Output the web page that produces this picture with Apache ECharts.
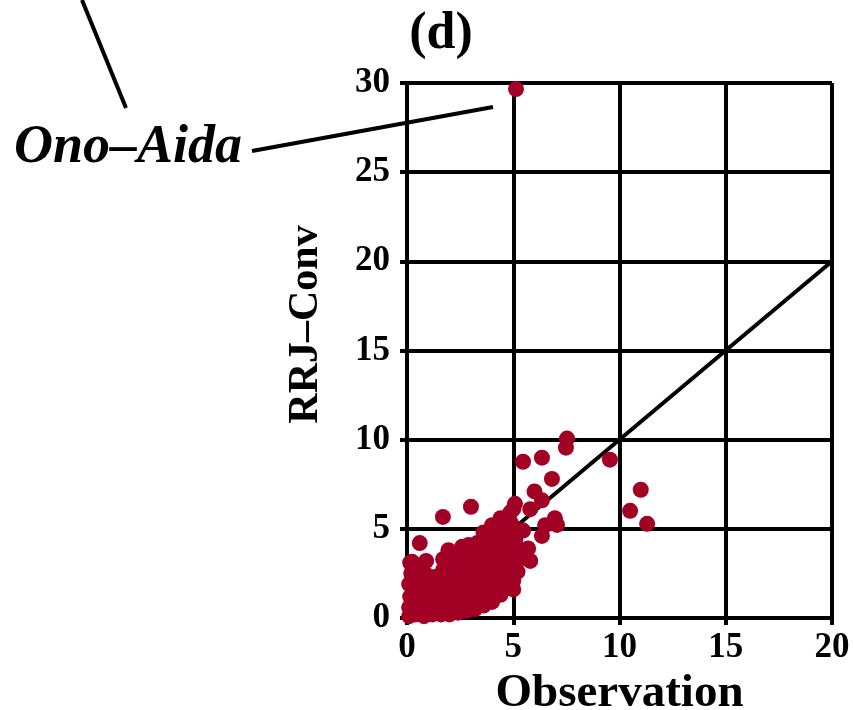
<!DOCTYPE html>
<html>
<head>
<meta charset="utf-8">
<script src="https://cdn.jsdelivr.net/npm/echarts@6/dist/echarts.min.js"></script>
<style>
  html, body { margin: 0; padding: 0; background: #fff; }
  #chart { width: 853px; height: 710px; }
</style>
</head>
<body>
<div id="chart"></div>
<script>
// observation vs RRJ-Conv
var cluster = [
  [0.1, 0.1], [0.1, 0.6], [0.15, 1.2], [0.1, 1.9], [0.2, 2.5], [0.15, 3.1],
  [0.4, 0.2], [0.4, 0.8], [0.45, 1.4], [0.4, 2.0], [0.5, 2.6],
  [0.8, 0.1], [0.8, 0.7], [0.75, 1.3], [0.8, 1.9], [0.85, 2.5], [0.9, 3.2],
  [1.2, 0.2], [1.2, 0.8], [1.25, 1.4], [1.2, 2.0], [1.3, 2.3],
  [1.6, 0.2], [1.6, 0.9], [1.65, 1.5], [1.6, 2.1], [1.7, 2.7], [1.7, 3.3],
  [2.0, 0.2], [2.0, 0.8], [2.05, 1.4], [2.0, 2.0], [2.1, 2.6], [2.0, 3.2], [1.95, 3.8],
  [2.4, 0.3], [2.4, 0.9], [2.45, 1.5], [2.4, 2.1], [2.5, 2.7], [2.4, 3.3], [2.6, 4.0],
  [2.8, 0.4], [2.8, 1.0], [2.85, 1.6], [2.8, 2.2], [2.9, 2.8], [2.8, 3.4], [2.9, 4.1],
  [3.2, 0.5], [3.2, 1.1], [3.25, 1.7], [3.2, 2.3], [3.3, 2.9], [3.2, 3.5], [3.3, 4.2],
  [3.6, 0.7], [3.6, 1.3], [3.65, 1.9], [3.6, 2.5], [3.7, 3.1], [3.6, 3.7], [3.7, 4.4], [3.6, 4.8],
  [4.0, 0.9], [4.0, 1.5], [4.05, 2.1], [4.0, 2.7], [4.1, 3.3], [4.0, 3.9], [4.1, 4.5], [4.0, 5.2],
  [4.4, 1.3], [4.4, 1.9], [4.45, 2.5], [4.4, 3.1], [4.5, 3.7], [4.4, 4.3], [4.5, 4.9], [4.4, 5.6],
  [4.8, 1.7], [4.8, 2.3], [4.85, 2.9], [4.8, 3.5], [4.9, 4.1], [4.8, 4.7], [4.9, 5.3], [4.85, 5.9],
  [5.0, 1.6], [5.0, 2.1], [5.2, 2.6], [5.2, 3.2], [5.3, 3.8], [5.1, 4.4], [5.0, 6.1], [5.08, 6.4]
];
var scattered = [
  [5.4, 3.4], [5.8, 3.2], [5.7, 3.9], [5.46, 4.9], [6.35, 4.6], [6.5, 5.2],
  [6.96, 5.6], [7.06, 5.22], [5.8, 6.1], [6.0, 7.1], [6.35, 6.6], [6.82, 7.8],
  [5.46, 8.76], [6.35, 8.99], [7.53, 10.06], [7.48, 9.55], [9.55, 8.88],
  [11.0, 7.19], [10.5, 6.01], [11.3, 5.28],
  [0.6, 4.2], [0.24, 3.15], [3.01, 6.24], [1.69, 5.67],
  [5.13, 29.66]
];
var oneToOne = [[0, 0], [20, 20]];
var xTicks = [0, 20, 5];
var yTicks = [0, 30, 5];

var font = 'Liberation Serif';
var myChart = echarts.init(document.getElementById('chart'));

option = {
    backgroundColor: '#fff',
    animation: false,
    title: {
        text: '(d)',
        left: 436,
        top: 4,
        textAlign: 'center',
        textStyle: { fontFamily: font, fontWeight: 'bold', fontSize: 52, color: '#000' }
    },
    grid: { left: 407, right: 21, top: 83, bottom: 92, outerBoundsMode: 'none', containLabel: false },
    xAxis: {
        type: 'value',
        min: xTicks[0], max: xTicks[1], interval: xTicks[2],
        name: 'Observation',
        nameLocation: 'middle',
        nameGap: 35,
        nameTextStyle: { fontFamily: font, fontWeight: 'bold', fontSize: 47, color: '#000' },
        axisLine: { lineStyle: { color: '#000', width: 4 } },
        axisTick: { length: 7, lineStyle: { color: '#000', width: 4 } },
        axisLabel: { margin: 12, fontFamily: font, fontWeight: 'bold', fontSize: 35, color: '#000' },
        splitLine: { lineStyle: { color: '#000', width: 4 } }
    },
    yAxis: {
        type: 'value',
        min: yTicks[0], max: yTicks[1], interval: yTicks[2],
        name: 'RRJ\u2013Conv',
        nameLocation: 'middle',
        nameGap: 80,
        nameTextStyle: { fontFamily: font, fontWeight: 'bold', fontSize: 42, color: '#000', padding: [0, 0, 0, 52] },
        axisLine: { lineStyle: { color: '#000', width: 4 } },
        axisTick: { length: 7, lineStyle: { color: '#000', width: 4 } },
        axisLabel: { margin: 17, fontFamily: font, fontWeight: 'bold', fontSize: 35, color: '#000' },
        splitLine: { lineStyle: { color: '#000', width: 4 } }
    },
    graphic: [
        { type: 'line', shape: { x1: 82, y1: 0, x2: 126, y2: 108 }, style: { stroke: '#000', lineWidth: 4 } },
        { type: 'line', shape: { x1: 252, y1: 151, x2: 493, y2: 107 }, style: { stroke: '#000', lineWidth: 4 }, z: 10 },
        {
            type: 'text', left: 14, top: 121,
            style: {
                text: 'Ono\u2013Aida',
                font: 'italic bold 54px "Liberation Serif"',
                fill: '#000'
            }
        }
    ],
    series: [
        {
            type: 'line',
            data: oneToOne,
            symbol: 'none',
            lineStyle: { color: '#000', width: 4 },
            z: 1
        },
        {
            type: 'scatter',
            data: cluster.concat(scattered),
            symbolSize: 16,
            itemStyle: { color: '#a30026', opacity: 1 },
            z: 3
        }
    ]
};
myChart.setOption(option);
</script>
</body>
</html>
